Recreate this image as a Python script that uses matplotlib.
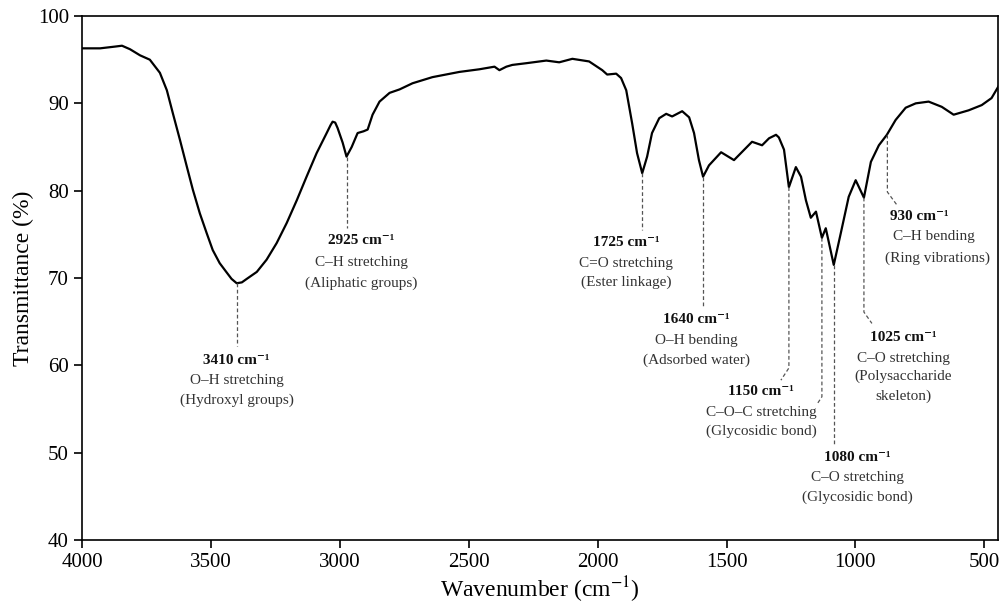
import numpy as np
import matplotlib.pyplot as plt

plt.rcParams['font.family'] = ['Liberation Serif', 'DejaVu Serif']
plt.rcParams['mathtext.fontset'] = 'stix'

# FTIR spectrum
wavenumber = [4000, 3930, 3872, 3845, 3814, 3775, 3737, 3698, 3671, 3648,
              3620, 3593, 3570, 3543, 3516, 3493, 3466, 3438, 3420, 3400,
              3380, 3361, 3322, 3284, 3245, 3206, 3167, 3129, 3090, 3051,
              3036, 3028, 3018, 3009, 2989, 2974, 2954, 2931, 2908, 2892,
              2873, 2846, 2807, 2768, 2718, 2641, 2536, 2459, 2400, 2381,
              2354, 2331, 2276, 2199, 2149, 2098, 2033, 1982, 1963, 1928,
              1909, 1889, 1866, 1847, 1827, 1808, 1789, 1761, 1734, 1711,
              1672, 1645, 1626, 1607, 1591, 1568, 1521, 1471, 1401, 1362,
              1335, 1308, 1297, 1277, 1258, 1231, 1211, 1192, 1173, 1153,
              1130, 1115, 1084, 1057, 1026, 999, 967, 940, 909, 878,
              844, 805, 766, 716, 665, 619, 561, 510, 472, 444]
transmittance = [96.3, 96.3, 96.5, 96.6, 96.2, 95.5, 95.0, 93.5, 91.5, 88.9,
                 85.8, 82.7, 80.1, 77.4, 75.1, 73.2, 71.7, 70.6, 69.9, 69.4,
                 69.5, 69.9, 70.7, 72.1, 74.0, 76.3, 78.9, 81.6, 84.3, 86.6,
                 87.5, 87.9, 87.8, 87.2, 85.5, 83.9, 85.0, 86.6, 86.8, 87.0,
                 88.7, 90.2, 91.2, 91.6, 92.3, 93.0, 93.6, 93.9, 94.2, 93.8,
                 94.2, 94.4, 94.6, 94.9, 94.7, 95.1, 94.8, 93.8, 93.3, 93.4,
                 92.9, 91.5, 87.7, 84.3, 82.0, 83.9, 86.6, 88.3, 88.8, 88.5,
                 89.1, 88.4, 86.6, 83.5, 81.6, 82.9, 84.4, 83.5, 85.6, 85.2,
                 86.0, 86.4, 86.1, 84.7, 80.4, 82.7, 81.6, 78.9, 76.9, 77.6,
                 74.6, 75.7, 71.5, 75.1, 79.3, 81.2, 79.2, 83.3, 85.2, 86.4,
                 88.1, 89.5, 90.0, 90.2, 89.6, 88.7, 89.2, 89.8, 90.6, 92.0]

# band labels: leader line points, label centre x, label line y's, texts
peak_labels = ['3410 cm⁻¹', '2925 cm⁻¹', '1725 cm⁻¹', '1640 cm⁻¹', '1150 cm⁻¹',
               None, '1080 cm⁻¹', '1025 cm⁻¹', '930 cm⁻¹']
peak_desc = [['O–H stretching', '(Hydroxyl groups)'],
             ['C–H stretching', '(Aliphatic groups)'],
             ['C=O stretching', '(Ester linkage)'],
             ['O–H bending', '(Adsorbed water)'],
             ['C–O–C stretching', '(Glycosidic bond)'],
             None,
             ['C–O stretching', '(Glycosidic bond)'],
             ['C–O stretching', '(Polysaccharide', 'skeleton)'],
             ['C–H bending', '(Ring vibrations)']]
leader_x = [[3400, 3400], [2974, 2974], [1827, 1827], [1591, 1591],
            [1258, 1258, 1289], [1130, 1130, 1150], [1084, 1084],
            [967, 967, 936], [876, 876, 840]]
leader_y = [[69.4, 62.2], [83.9, 75.7], [82.0, 75.5], [81.6, 66.7],
            [80.4, 59.7, 58.3], [74.6, 56.4, 55.5], [71.5, 50.9],
            [79.2, 66.1, 64.8], [86.4, 79.85, 78.4]]
label_x = [[3400, 3400, 3400], [2916, 2916, 2916], [1889, 1889, 1889],
           [1618, 1618, 1618], [1366, 1366, 1366], None, [991, 991, 991],
           [813, 813, 813, 813], [751, 696, 681]]
label_y = [[60.6, 58.3, 56.0], [74.35, 71.8, 69.4], [74.1, 71.7, 69.5],
           [65.2, 62.9, 60.6], [57.05, 54.65, 52.4], None, [49.5, 47.1, 44.9],
           [63.2, 60.8, 58.8, 56.5], [77.0, 74.7, 72.3]]

fig = plt.figure(figsize=(10.04, 6.07), dpi=100)
ax = fig.add_axes([0.0817, 0.1104, 0.9123, 0.8632])

ax.plot(wavenumber, transmittance, color='black', lw=1.6)

for i in range(len(leader_x)):
    ax.plot(leader_x[i], leader_y[i], color='#555555', lw=0.9,
            linestyle=(0, (3, 2)))
    if peak_labels[i] is None:
        continue
    ax.text(label_x[i][0], label_y[i][0], peak_labels[i], ha='center',
            va='center', fontsize=11, fontweight='bold', color='#111111')
    for j, t in enumerate(peak_desc[i]):
        ax.text(label_x[i][j + 1], label_y[i][j + 1], t, ha='center',
                va='center', fontsize=11, color='#333333')

ax.set_xlim(4000, 447)
ax.set_ylim(40, 100)
ax.set_xticks([4000, 3500, 3000, 2500, 2000, 1500, 1000, 500])
ax.set_yticks([40, 50, 60, 70, 80, 90, 100])
ax.tick_params(labelsize=15, direction='out', length=6, width=1.2)
for sp in ax.spines.values():
    sp.set_linewidth(1.2)
ax.set_xlabel('Wavenumber (cm$^{-1}$)', fontsize=17, labelpad=2)
ax.set_ylabel('Transmittance (%)', fontsize=17, labelpad=3)

fig.savefig('out.png', dpi=100)
